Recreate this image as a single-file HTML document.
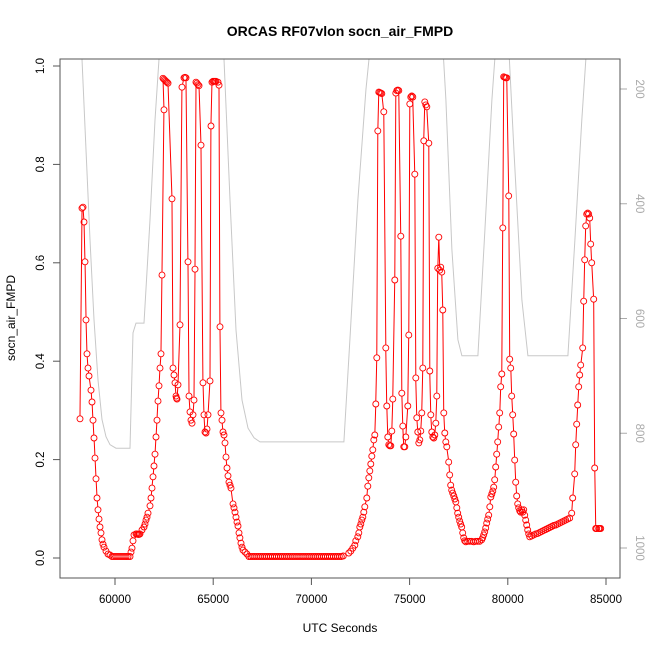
<!DOCTYPE html>
<html><head><meta charset="utf-8"><style>
html,body{margin:0;padding:0;background:#fff}
svg{display:block;font-family:"Liberation Sans",Arial,sans-serif}
</style></head><body>
<svg id="chart" width="650" height="650" viewBox="0 0 650 650" xmlns="http://www.w3.org/2000/svg">
<defs><clipPath id="clip"><rect x="60" y="59" width="560" height="519"/></clipPath></defs>
<rect width="650" height="650" fill="#fff"/>
<text x="340" y="36" text-anchor="middle" font-size="14" font-weight="bold">ORCAS RF07vlon socn_air_FMPD</text>
<text x="340" y="632" text-anchor="middle" font-size="12">UTC Seconds</text>
<text transform="translate(15,318) rotate(-90)" text-anchor="middle" font-size="12">socn_air_FMPD</text>
<g id="pres" clip-path="url(#clip)"></g>
<g id="series"></g>
<g id="axes"></g>
<rect x="60" y="59" width="560" height="519" fill="none" stroke="#555" stroke-width="1"/>
</svg>
<script>
const xTicks=[60000,65000,70000,75000,80000,85000];
const yTicks=[0,0.2,0.4,0.6,0.8,1.0];
const pTicks=[200,400,600,800,1000];
const presTime=[58117,58320,58524,58728,58931,59135,59338,59542,59745,60051,60764,60916,61069,61476,61782,62036,62240,62392,65345,65548,65854,66159,66464,66770,67075,67381,71656,71962,72369,72776,73081,76644,76848,77153,77459,77662,78477,78833,79189,79444,80004,80309,80716,81022,83058,83414,83770,84075];
const presVal=[115,148,306,463,602,707,776,806,820,826,826,625,608,608,428,254,148,97,97,148,393,620,742,791,808,815,815,637,393,202,97,97,219,480,637,665,665,446,219,97,97,306,568,665,665,463,254,97];
const socnTime=[58218,58320,58371,58422,58473,58524,58575,58626,58677,58778,58829,58880,58931,58982,59033,59084,59135,59186,59236,59287,59338,59389,59440,59542,59643,59745,59847,59949,60051,60153,60254,60356,60458,60560,60662,60764,60814,60865,60916,60967,61069,61120,61171,61222,61272,61374,61476,61527,61578,61629,61680,61781,61832,61883,61934,61985,62036,62087,62138,62189,62240,62290,62341,62392,62494,62443,62494,62545,62596,62647,62698,62901,62952,63003,63054,63105,63130,63156,63207,63308,63410,63512,63563,63614,63716,63767,63817,63868,63919,63970,64021,64072,64123,64174,64225,64276,64378,64479,64530,64581,64632,64683,64734,64836,64886,64937,64988,65039,65090,65141,65243,65294,65344,65395,65446,65497,65548,65599,65650,65701,65752,65803,65854,65904,66006,66057,66108,66159,66210,66261,66312,66362,66413,66464,66515,66617,66719,66820,66920,67020,67120,67220,67320,67420,67520,67620,67720,67820,67920,68020,68120,68220,68320,68420,68520,68620,68720,68820,68920,69020,69120,69220,69320,69420,69520,69620,69720,69820,69920,70020,70120,70220,70320,70420,70520,70620,70720,70820,70920,71020,71120,71220,71320,71420,71520,71620,71904,72006,72108,72209,72260,72362,72413,72464,72515,72566,72617,72667,72718,72820,72871,72922,72973,73024,73075,73126,73176,73227,73278,73329,73380,73431,73482,73533,73584,73685,73787,73838,73889,73940,73991,74042,74093,74144,74245,74296,74347,74398,74449,74551,74602,74652,74703,74754,74805,74907,74958,75009,75060,75110,75161,75263,75314,75365,75416,75467,75518,75569,75619,75670,75721,75772,75823,75874,75976,76027,76077,76128,76179,76230,76281,76332,76383,76434,76485,76535,76586,76637,76688,76739,76790,76841,76892,76993,77044,77095,77146,77197,77248,77299,77350,77401,77451,77502,77553,77604,77655,77706,77757,77808,77859,77960,78062,78164,78266,78368,78469,78571,78673,78724,78775,78826,78877,78928,78979,79030,79081,79132,79183,79234,79284,79335,79386,79437,79488,79539,79590,79641,79692,79743,79793,79844,79895,79946,80048,80099,80150,80201,80252,80302,80353,80404,80455,80506,80557,80608,80659,80710,80761,80811,80862,80913,80964,81015,81066,81117,81219,81320,81422,81524,81626,81728,81829,81931,82033,82135,82237,82338,82440,82542,82644,82746,82847,82949,83051,83153,83254,83305,83407,83458,83509,83560,83611,83662,83712,83814,83865,83916,83967,84018,84069,84120,84171,84221,84272,84374,84425,84476,84527,84629,84680,84730];
const socnVal=[0.283,0.711,0.713,0.683,0.602,0.484,0.415,0.386,0.370,0.341,0.317,0.280,0.244,0.203,0.161,0.122,0.098,0.079,0.063,0.051,0.037,0.028,0.022,0.014,0.008,0.006,0.003,0.003,0.003,0.003,0.003,0.003,0.003,0.003,0.003,0.003,0.012,0.020,0.035,0.047,0.049,0.049,0.048,0.048,0.049,0.057,0.063,0.069,0.077,0.083,0.091,0.106,0.122,0.142,0.165,0.187,0.211,0.246,0.280,0.319,0.350,0.386,0.415,0.575,0.911,0.975,0.973,0.971,0.969,0.967,0.965,0.730,0.386,0.372,0.356,0.329,0.325,0.323,0.352,0.474,0.957,0.976,0.977,0.976,0.602,0.329,0.297,0.280,0.274,0.291,0.321,0.587,0.967,0.965,0.962,0.960,0.839,0.356,0.291,0.256,0.254,0.262,0.291,0.360,0.878,0.967,0.969,0.969,0.969,0.969,0.967,0.961,0.470,0.295,0.280,0.256,0.250,0.234,0.205,0.183,0.167,0.154,0.148,0.142,0.110,0.102,0.093,0.083,0.073,0.065,0.051,0.041,0.030,0.022,0.016,0.012,0.008,
0.003,0.003,0.003,0.003,0.003,0.003,0.003,0.003,0.003,0.003,0.003,0.003,0.003,0.003,0.003,0.003,0.003,0.003,0.003,0.003,0.003,0.003,0.003,0.003,0.003,0.003,0.003,0.003,0.003,0.003,0.003,0.003,0.003,0.003,0.003,0.003,0.003,0.003,0.003,0.003,0.003,0.003,0.003,0.003,0.003,0.003,0.003,0.003,0.004,
0.010,0.014,0.020,0.026,0.035,0.043,0.051,0.063,0.069,0.077,0.083,0.093,0.104,0.122,0.146,0.163,0.177,0.191,0.207,0.220,0.240,0.250,0.313,0.407,0.868,0.947,0.946,0.945,0.944,0.907,0.427,0.309,0.246,0.230,0.228,0.228,0.258,0.323,0.565,0.945,0.950,0.951,0.950,0.654,0.335,0.268,0.226,0.226,0.246,0.309,0.453,0.923,0.937,0.939,0.937,0.780,0.366,0.285,0.256,0.234,0.240,0.258,0.295,0.386,0.848,0.927,0.921,0.917,0.843,0.380,0.291,0.256,0.246,0.244,0.250,0.274,0.329,0.589,0.652,0.585,0.591,0.581,0.504,0.295,0.254,0.236,0.226,0.195,0.169,0.148,0.138,0.132,0.126,0.120,0.114,0.102,0.091,0.083,0.075,0.069,0.063,0.051,0.041,0.035,0.033,0.034,0.034,0.034,0.033,0.034,0.034,0.034,0.037,0.041,0.047,0.053,0.061,0.071,0.079,0.087,0.104,0.124,0.130,0.136,0.144,0.159,0.185,0.211,0.236,0.266,0.295,0.348,0.374,0.671,0.978,0.977,0.976,0.976,0.736,0.404,0.386,0.329,0.291,0.252,0.199,0.154,0.126,0.110,0.102,0.096,0.093,0.098,0.093,0.098,0.087,0.077,0.067,0.057,0.049,0.043,0.045,0.047,0.049,0.050,0.052,0.054,0.056,0.058,0.060,0.062,0.064,0.066,0.067,0.069,0.071,0.073,0.075,0.077,0.079,0.081,0.091,0.122,0.171,0.230,0.272,0.311,0.348,0.372,0.392,0.427,0.522,0.606,0.675,0.699,0.701,0.699,0.691,0.638,0.600,0.526,0.183,0.060,0.060,0.060,0.060,0.060];

const X0=60000,X1=85000,PX0=115,PX1=606;
const xs=v=>PX0+(v-X0)*(PX1-PX0)/(X1-X0);
const ys=v=>558-v*492;
const ps=p=>89+(p-200)*(548-89)/800;
const NS='http://www.w3.org/2000/svg';
function mk(tag,parent){const e=document.createElementNS(NS,tag);parent.appendChild(e);return e;}

const pres=document.getElementById('pres');
const pl=mk('polyline',pres);


pl.setAttribute('points',presTime.map((t,i)=>xs(t).toFixed(1)+','+ps(presVal[i]).toFixed(1)).join(' '));
pl.setAttribute('fill','none');pl.setAttribute('stroke','#c8c8c8');pl.setAttribute('stroke-width','1');

const ser=document.getElementById('series');
const R=3;
const pts=socnTime.map((t,i)=>[xs(t),ys(socnVal[i])]);
let d='';
for(let i=1;i<pts.length;i++){
  const [x1,y1]=pts[i-1],[x2,y2]=pts[i];
  const dx=x2-x1,dy=y2-y1,L=Math.hypot(dx,dy);
  if(L>2*R+0.5){const ux=dx/L,uy=dy/L;
    d+='M'+(x1+ux*R).toFixed(1)+','+(y1+uy*R).toFixed(1)+'L'+(x2-ux*R).toFixed(1)+','+(y2-uy*R).toFixed(1);}
}
const seg=mk('path',ser);


seg.setAttribute('d',d);seg.setAttribute('stroke','#ff0000');seg.setAttribute('stroke-width','1');seg.setAttribute('fill','none');
pts.forEach(p=>{
  const c=mk('circle',ser);
  
  
  c.setAttribute('cx',p[0].toFixed(1));c.setAttribute('cy',p[1].toFixed(1));c.setAttribute('r',R);
  c.setAttribute('fill','none');c.setAttribute('stroke','#ff0000');c.setAttribute('stroke-width','0.9');
});

const ax=document.getElementById('axes');
xTicks.forEach(v=>{
  const l=mk('line',ax);
  
  
  l.setAttribute('x1',xs(v));l.setAttribute('x2',xs(v));l.setAttribute('y1',578);l.setAttribute('y2',585);l.setAttribute('stroke','#555');
  const t=mk('text',ax);
  
  
  t.setAttribute('x',xs(v));t.setAttribute('y',603);t.setAttribute('text-anchor','middle');t.setAttribute('font-size','11.5');
  t.textContent=v;
});
yTicks.forEach(v=>{
  const l=mk('line',ax);
  
  
  l.setAttribute('x1',53);l.setAttribute('x2',60);l.setAttribute('y1',ys(v));l.setAttribute('y2',ys(v));l.setAttribute('stroke','#555');
  const t=mk('text',ax);
  
  
  t.setAttribute('transform','translate(44,'+ys(v)+') rotate(-90)');t.setAttribute('text-anchor','middle');t.setAttribute('font-size','11.5');
  t.textContent=v.toFixed(1);
});
pTicks.forEach(v=>{
  const l=mk('line',ax);
  
  
  l.setAttribute('x1',620);l.setAttribute('x2',627);l.setAttribute('y1',ps(v));l.setAttribute('y2',ps(v));l.setAttribute('stroke','#aaa');
  const t=mk('text',ax);
  
  
  t.setAttribute('transform','translate(636,'+ps(v)+') rotate(90)');t.setAttribute('text-anchor','middle');t.setAttribute('font-size','11.5');t.setAttribute('fill','#aaa');
  t.textContent=v;
});
</script>
</body></html>
